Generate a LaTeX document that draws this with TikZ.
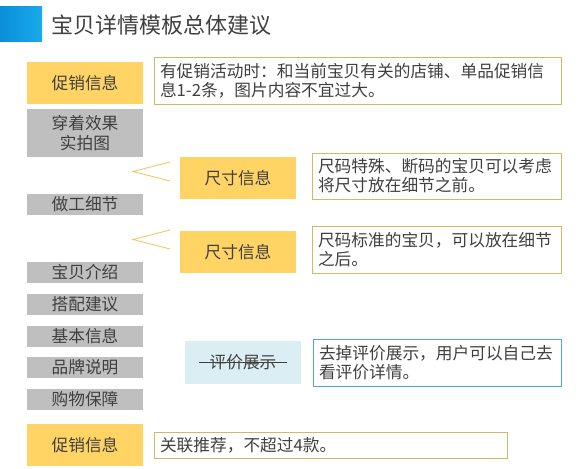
\documentclass[tikz,border=0pt]{standalone}
\usepackage{fontspec}
\setmainfont{Noto Sans CJK SC}
\usetikzlibrary{calc}
\definecolor{yel}{HTML}{FFD465}
\definecolor{gry}{HTML}{BFBFBF}
\definecolor{lblue}{HTML}{DBEEF4}
\definecolor{tanb}{HTML}{D4B866}
\definecolor{tealb}{HTML}{4BACC6}
\definecolor{txt}{HTML}{404040}
\definecolor{chev}{HTML}{F0C358}
\definecolor{blueA}{HTML}{0A8ED8}
\definecolor{blueB}{HTML}{1AAAEA}
\tikzset{
  base/.style={inner sep=0pt, text=txt, font=\fontsize{16.7pt}{19pt}\selectfont, align=center},
  ybox/.style={base, fill=yel, minimum width=116pt, minimum height=42pt},
  gbox/.style={base, fill=gry, minimum width=116pt, minimum height=21pt},
  bbox/.style={base, fill=lblue, minimum width=116pt, minimum height=43pt},
  note/.style={base, draw=tanb, line width=0.8pt, fill=white, align=left, inner xsep=6pt, inner ysep=0pt},
  tnote/.style={note, draw=tealb},
  chevline/.style={draw=chev, line width=0.8pt}
}
\begin{document}
\begin{tikzpicture}[x=1pt,y=-1pt]
\useasboundingbox (0,0) rectangle (585,468);
\fill[white] (0,0) rectangle (585,468);
% title
\shade[left color=blueA, right color=blueB] (0,7) rectangle (42,42);
\node[anchor=west, inner sep=0pt, text=txt, font=\fontsize{22pt}{26pt}\selectfont] (title) at (51,25) {宝贝详情模板总体建议};
% left column
\node[ybox] (promo1) at (85,83) {促销信息};
\node[gbox, minimum height=48pt, font=\fontsize{16.7pt}{20pt}\selectfont] (wear) at (85,133) {穿着效果\\实拍图};
\node[gbox] (craft) at (85,204) {做工细节};
\node[gbox] (intro) at (85,272.5) {宝贝介绍};
\node[gbox] (match) at (85,304.5) {搭配建议};
\node[gbox] (basic) at (85,336.5) {基本信息};
\node[gbox] (brand) at (85,367.5) {品牌说明};
\node[gbox] (shop) at (85,399.5) {购物保障};
\node[ybox] (promo2) at (85,445) {促销信息};
% middle column
\node[ybox] (size1) at (238,178) {尺寸信息};
\node[ybox] (size2) at (238,252) {尺寸信息};
\node[bbox] (review) at (243,362.5) {};
\node[base, inner xsep=10pt] (reviewtxt) at (review.center) {评价展示};
\draw[txt, line width=0.8pt] (reviewtxt.west) -- (reviewtxt.east);
% chevrons
\coordinate (c1a) at (170,162);
\coordinate (c1b) at (133,171.5);
\coordinate (c1c) at (170,181);
\draw[chevline] (c1a) -- (c1b) -- (c1c);
\coordinate (c2a) at (170,230);
\coordinate (c2b) at (133,239.5);
\coordinate (c2c) at (170,249);
\draw[chevline] (c2a) -- (c2b) -- (c2c);
% notes
\node[note, text width=395pt, minimum height=47pt] (n1) at (357.5,80.5) {有促销活动时：和当前宝贝有关的店铺、单品促销信\\息1-2条，图片内容不宜过大。};
\node[note, text width=237pt, minimum height=46pt] (n2) at (436.5,176) {尺码特殊、断码的宝贝可以考虑\\将尺寸放在细节之前。};
\node[note, text width=237pt, minimum height=47pt] (n3) at (436.5,249.5) {尺码标准的宝贝，可以放在细节\\之后。};
\node[tnote, text width=236pt, minimum height=47pt] (n4) at (437,362.5) {去掉评价展示，用户可以自己去\\看评价详情。};
\node[note, text width=341pt, minimum height=26pt] (n5) at (330.5,445) {关联推荐，不超过4款。};
\end{tikzpicture}
\end{document}
